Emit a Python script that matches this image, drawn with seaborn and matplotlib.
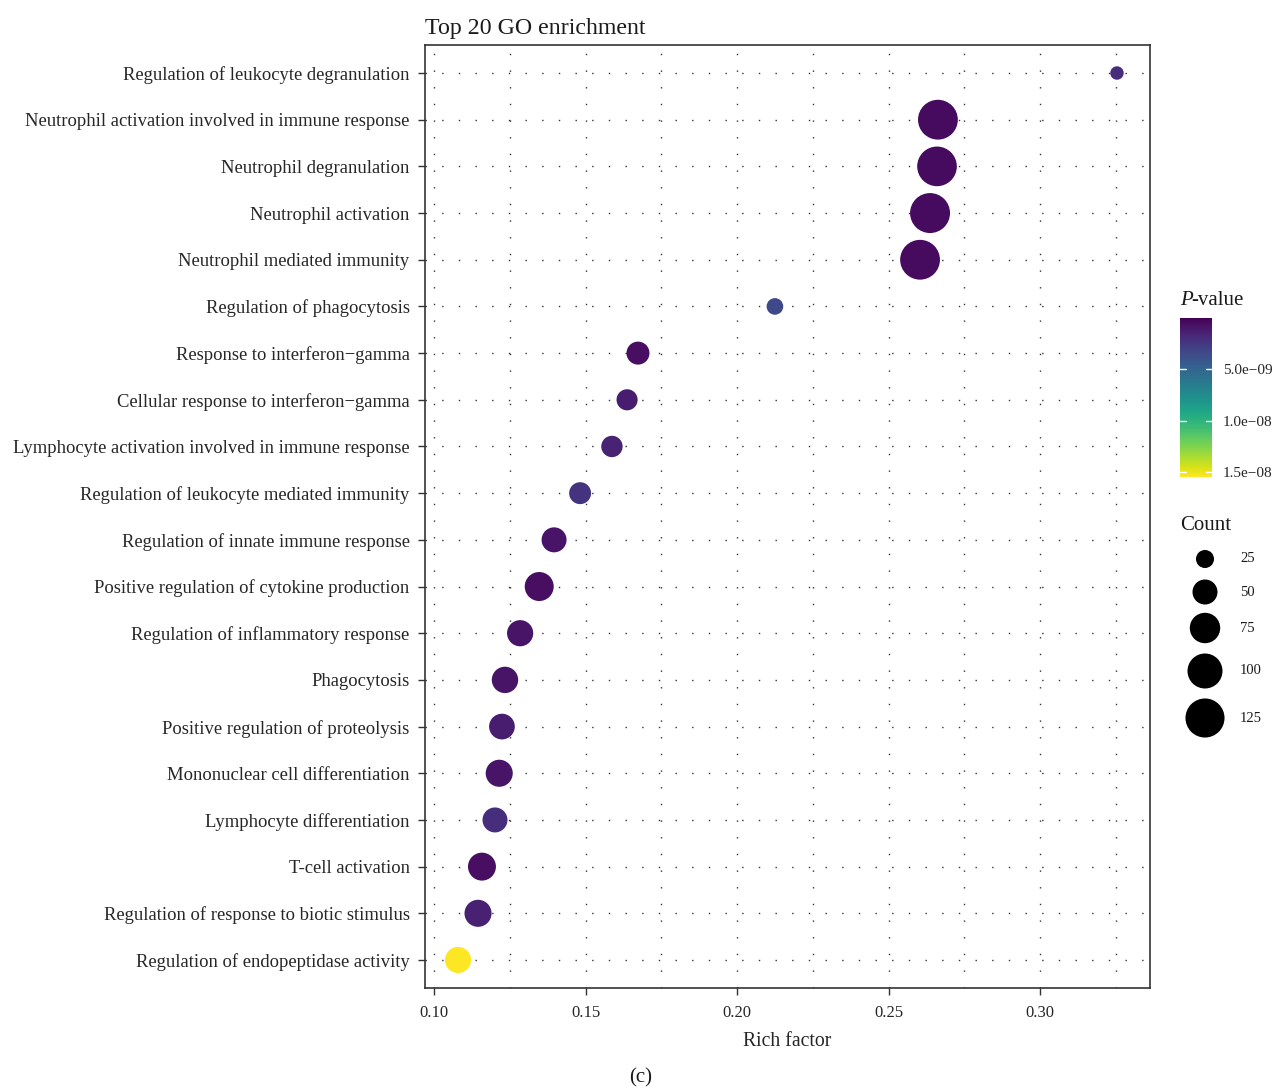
import numpy as np
import pandas as pd
import matplotlib
matplotlib.use("Agg")
import matplotlib.pyplot as plt
import seaborn as sns
from matplotlib import cm, colors

# GO terms (top to bottom)
terms = [
    "Regulation of leukocyte degranulation",
    "Neutrophil activation involved in immune response",
    "Neutrophil degranulation",
    "Neutrophil activation",
    "Neutrophil mediated immunity",
    "Regulation of phagocytosis",
    "Response to interferon\u2212gamma",
    "Cellular response to interferon\u2212gamma",
    "Lymphocyte activation involved in immune response",
    "Regulation of leukocyte mediated immunity",
    "Regulation of innate immune response",
    "Positive regulation of cytokine production",
    "Regulation of inflammatory response",
    "Phagocytosis",
    "Positive regulation of proteolysis",
    "Mononuclear cell differentiation",
    "Lymphocyte differentiation",
    "T-cell activation",
    "Regulation of response to biotic stimulus",
    "Regulation of endopeptidase activity",
]
rich_factor = [0.3254, 0.2663, 0.2660, 0.2637, 0.2604, 0.2125, 0.1673, 0.1637,
               0.1587, 0.1482, 0.1396, 0.1347, 0.1284, 0.1234, 0.1224, 0.1215,
               0.1201, 0.1158, 0.1145, 0.1079]
gene_count = [13, 130, 129, 131, 130, 21, 42, 35, 36, 38, 50, 68, 55, 56, 53,
              59, 50, 63, 59, 55]
p_value = [2.0e-9, 4.5e-10, 4.5e-10, 4.5e-10, 4.5e-10, 3.4e-9, 6.0e-10, 1.2e-9,
           1.5e-9, 2.3e-9, 8.0e-10, 6.0e-10, 8.0e-10, 8.0e-10, 1.2e-9, 8.0e-10,
           2.0e-9, 6.0e-10, 1.4e-9, 1.55e-8]

count_breaks = [25, 50, 75, 100, 125]
p_breaks = [5.0e-9, 1.0e-8, 1.5e-8]
p_break_labels = ["5.0e\u221209", "1.0e\u221208", "1.5e\u221208"]
x_ticks = [0.10, 0.15, 0.20, 0.25, 0.30]

df = pd.DataFrame({"term": terms, "rich": rich_factor,
                   "count": gene_count, "p": p_value})

sns.set_theme(style="white")
plt.rcParams["font.family"] = ["Liberation Serif", "DejaVu Serif"]
plt.rcParams["text.color"] = "#1a1a1a"

W, H = 1272, 1089
fig = plt.figure(figsize=(W / 100, H / 100), dpi=100)
ax = fig.add_axes([425 / W, 1 - 988 / H, (1150 - 425) / W, (988 - 45) / H])

p_norm = colors.Normalize(vmin=0.0, vmax=1.55e-8)
size_norm = (0, 150)
size_range = (0.5184 * 25, 0.5184 * 1825)


def area_for(c):
    lo, hi = size_norm
    return size_range[0] + (c - lo) / (hi - lo) * (size_range[1] - size_range[0])


ypos = np.arange(len(terms))
df["y"] = ypos

# dotted grid at every 0.025 on x and at each term on y
for gx in np.arange(0.10, 0.3301, 0.025):
    ax.axvline(gx, color="#333333", lw=1.0, ls=(0, (1.0, 11)), zorder=0)
for gy in ypos:
    ax.axhline(gy, color="#333333", lw=1.0, ls=(0, (1.0, 11)), zorder=0)

sns.scatterplot(data=df, x="rich", y="y", hue="p", palette="viridis",
                hue_norm=p_norm, size="count", sizes=size_range,
                size_norm=size_norm, edgecolor="none", linewidth=0,
                legend=False, ax=ax, zorder=3)

ax.set_xlim(0.097, 0.3363)
ax.set_ylim(len(terms) - 1 + 0.6, -0.6)
ax.set_yticks(ypos)
ax.set_yticklabels(terms, fontsize=13.4)
ax.set_xticks(x_ticks)
ax.set_xticklabels([f"{v:.2f}" for v in x_ticks], fontsize=12)
ax.tick_params(axis="both", direction="out", length=5, width=1.0,
               color="#333333", bottom=True, left=True)
ax.tick_params(axis="y", pad=6)
ax.tick_params(axis="x", pad=7)
ax.set_xlabel("Rich factor", fontsize=14.2, labelpad=8)
ax.set_ylabel("")
ax.set_title("Top 20 GO enrichment", fontsize=17.2, loc="left", pad=8, x=0.0)
for s in ax.spines.values():
    s.set_visible(True)
    s.set_color("#333333")
    s.set_linewidth(1.2)

# P-value colour bar
cax = fig.add_axes([1180 / W, 1 - 477 / H, 32 / W, 159 / H])
sm = cm.ScalarMappable(norm=p_norm, cmap="viridis")
cb = fig.colorbar(sm, cax=cax)
cb.outline.set_visible(False)
cax.invert_yaxis()
cb.set_ticks(p_breaks)
cb.set_ticklabels(p_break_labels)
cax.tick_params(length=0, labelsize=11, pad=8)
for pb in p_breaks:
    cax.plot([0, 0.2], [pb, pb], color="white", lw=1.0, transform=cax.get_yaxis_transform())
    cax.plot([0.8, 1.0], [pb, pb], color="white", lw=1.0, transform=cax.get_yaxis_transform())
fig.text(1180 / W, 1 - 301 / H, "P", fontsize=15, va="center", ha="left",
         fontstyle="italic")
fig.text(1191 / W, 1 - 301 / H, "-value", fontsize=15, va="center", ha="left")

# Count legend
lax = fig.add_axes([0, 0, 1, 1])
lax.set_xlim(0, W)
lax.set_ylim(H, 0)
lax.axis("off")
lax.text(1180, 526, "Count", fontsize=15, va="center", ha="left")
legend_y = [559, 592, 628, 671, 718]
lax.scatter([1205] * len(count_breaks), legend_y,
            s=[area_for(c) for c in count_breaks], color="black",
            edgecolor="none", zorder=3)
for yy, c in zip(legend_y, count_breaks):
    lax.text(1240, yy, str(c), fontsize=10.5, va="center", ha="left")

fig.text(641 / W, 1 - 1078 / H, "(c)", fontsize=15, ha="center", va="center")

fig.savefig("out.png", dpi=100, facecolor="white")
